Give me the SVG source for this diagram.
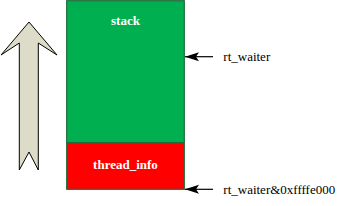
<svg xmlns="http://www.w3.org/2000/svg" width="350" height="206" viewBox="0 0 350 206">
<defs>
<style>
.lbl{font-family:"Liberation Serif","Times New Roman",serif;font-size:13px;fill:#000}
.in{font-family:"Liberation Serif","Times New Roman",serif;font-size:13px;font-weight:bold;fill:#fff;text-anchor:middle}
.box{stroke:#1e6b3a;stroke-width:1.2}
.ptr{stroke:#000;stroke-width:1.2;fill:none}
</style>
<marker id="ah" markerWidth="14" markerHeight="10" refX="14" refY="5" orient="auto" markerUnits="userSpaceOnUse">
<path d="M14,5 L0,0.5 L3,5 L0,9.5 Z" fill="#000"/>
</marker>
</defs>
<rect width="350" height="206" fill="#fff"/>
<g id="growth-arrow">
<path d="M29,22 L57,55 L38.3,43 L38.3,170 L29,152 L19.3,170 L19.3,43 L1,55 Z" fill="#dcdcc8" stroke="#000" stroke-width="1"/>
</g>
<g id="stack">
<rect class="box" x="66.7" y="0.7" width="117.6" height="142" fill="#00b050"/>
<text class="in" x="125.5" y="25">stack</text>
</g>
<g id="thread_info">
<rect class="box" x="66.7" y="142.7" width="117.6" height="46.6" fill="#ff0000"/>
<text class="in" x="125.5" y="169">thread_info</text>
</g>
<g id="connectors">
<line class="ptr" x1="213" y1="56.7" x2="185" y2="56.7" marker-end="url(#ah)"/>
<line class="ptr" x1="213" y1="189.3" x2="185" y2="189.3" marker-end="url(#ah)"/>
</g>
<g id="labels">
<text class="lbl" x="223.3" y="61">rt_waiter</text>
<text class="lbl" x="223.3" y="193.5">rt_waiter&amp;0xffffe000</text>
</g>
</svg>
